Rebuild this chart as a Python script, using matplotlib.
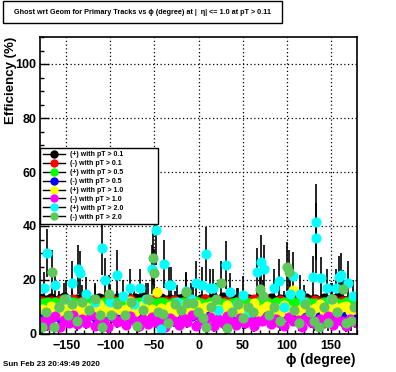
import numpy as np
import matplotlib
matplotlib.use("Agg")
import matplotlib.pyplot as plt
from matplotlib.lines import Line2D
from matplotlib.patches import Rectangle

plt.rcParams["font.family"] = ["Liberation Sans", "DejaVu Sans"]
plt.rcParams["font.weight"] = "bold"

# 5 degree bins for the well populated samples
phi = np.arange(-177.5, 180, 5.0)

eff_pos_01 = [12.9, 12.5, 13.3, 12.4, 13.0, 13.6, 12.7, 12.3, 13.1, 13.4, 12.6, 12.2,
              12.8, 13.5, 13.0, 12.4, 12.7, 13.2, 12.5, 12.1, 12.9, 13.3, 12.8, 13.7,
              12.6, 12.3, 13.0, 13.4, 12.5, 13.1, 12.4, 12.8, 13.5, 13.2, 12.7, 12.3,
              13.1, 12.9, 12.4, 13.3, 12.6, 13.6, 13.0, 12.2, 12.8, 13.4, 12.5, 13.1,
              12.3, 12.9, 13.5, 12.7, 13.2, 12.4, 13.0, 12.6, 13.7, 12.8, 12.3, 13.1,
              13.4, 12.5, 12.9, 12.2, 13.3, 12.7, 13.0, 13.5, 12.6, 12.4, 13.1, 12.8]
eff_neg_01 = [12.1, 11.6, 12.4, 11.9, 12.6, 11.4, 12.0, 12.8, 11.7, 12.3, 11.5, 12.2,
              12.7, 11.8, 12.1, 11.3, 12.5, 11.9, 12.2, 11.6, 12.9, 12.0, 11.4, 12.4,
              11.8, 12.6, 12.1, 11.5, 12.3, 11.9, 12.7, 11.7, 12.0, 12.4, 11.6, 12.2,
              11.9, 12.8, 11.5, 12.1, 12.5, 11.8, 12.3, 11.6, 12.0, 12.6, 11.4, 12.2,
              12.9, 11.7, 12.1, 12.4, 11.5, 12.0, 12.6, 11.9, 12.3, 11.6, 12.7, 11.8,
              12.2, 11.4, 12.5, 12.0, 11.7, 12.3, 12.8, 11.6, 12.1, 12.4, 11.9, 12.2]
eff_pos_05 = [11.6, 11.9, 11.3, 12.0, 11.5, 11.2, 11.8, 11.9, 11.4, 11.6, 12.1, 11.2,
              11.8, 11.4, 12.0, 11.3, 11.7, 11.9, 11.1, 11.5, 12.0, 11.3, 11.7, 11.6,
              11.2, 11.9, 11.4, 11.8, 11.6, 11.1, 12.0, 11.3, 11.9, 11.5, 11.2, 12.1,
              11.6, 11.1, 11.8, 11.3, 11.9, 11.6, 11.2, 11.5, 12.0, 11.3, 11.7, 11.4,
              11.1, 11.9, 11.6, 12.0, 11.2, 11.7, 11.3, 11.9, 11.2, 11.8, 11.5, 11.7,
              12.0, 11.3, 11.6, 11.1, 11.9, 11.4, 11.9, 11.6, 11.2, 11.8, 11.5, 11.3]
eff_neg_05 = [6.6, 7.2, 6.1, 6.9, 5.8, 7.4, 6.3, 6.7, 7.0, 5.9, 6.5, 7.3,
              6.2, 6.8, 5.7, 7.1, 6.4, 6.0, 7.5, 6.6, 6.1, 6.9, 7.2, 5.8,
              6.5, 7.0, 6.3, 5.9, 6.8, 7.3, 6.2, 6.6, 7.1, 6.0, 6.7, 7.4,
              5.8, 6.4, 6.9, 7.2, 6.1, 6.6, 5.9, 7.0, 6.5, 6.3, 7.3, 6.8,
              6.0, 6.6, 7.1, 6.2, 6.9, 5.8, 6.4, 7.2, 6.7, 6.1, 7.4, 6.5,
              5.9, 6.8, 7.0, 6.3, 7.5, 6.6, 6.2, 6.9, 7.1, 6.4, 7.6, 6.7]
eff_pos_10 = [9.2, 8.1, 10.3, 8.8, 7.6, 9.9, 8.4, 10.8, 9.0, 7.9, 10.1, 8.6,
              9.5, 11.2, 8.2, 9.7, 7.8, 10.4, 8.9, 9.3, 12.1, 8.0, 9.6, 10.6,
              8.3, 9.1, 15.5, 9.8, 8.5, 10.2, 7.7, 9.4, 10.9, 8.7, 9.0, 11.0,
              8.1, 9.9, 10.5, 7.9, 9.2, 8.6, 10.7, 9.4, 8.0, 10.0, 8.8, 9.6,
              11.4, 8.3, 9.1, 10.3, 8.5, 9.8, 7.8, 10.6, 9.0, 16.2, 8.4, 9.7,
              10.1, 8.2, 9.5, 11.0, 8.7, 9.3, 10.8, 8.0, 9.9, 10.4, 8.6, 9.2]
eff_neg_10 = [4.8, 3.2, 5.9, 6.6, 2.7, 5.1, 4.2, 6.9, 3.6, 5.5, 4.0, 7.2,
              3.1, 5.7, 4.6, 2.5, 6.2, 4.4, 5.3, 3.4, 6.8, 4.9, 2.9, 5.6,
              3.8, 6.4, 4.1, 5.0, 2.6, 6.0, 4.7, 3.3, 5.8, 4.3, 7.0, 3.0,
              5.2, 4.5, 6.3, 2.8, 5.4, 3.9, 6.7, 4.6, 3.5, 5.9, 4.0, 6.1,
              2.9, 5.0, 4.8, 6.5, 3.7, 5.6, 4.2, 3.1, 6.2, 4.9, 5.3, 2.7,
              6.0, 4.4, 3.6, 5.7, 4.1, 6.6, 3.3, 5.1, 4.7, 2.8, 5.5, 4.3]

# pT > 2.0 samples are sparse, kept as separate point lists
phi_pos_20 = [-176, -172, -163, -158, -150, -144, -137, -135, -128, -118,
              -110, -106, -100, -93, -86, -78, -73, -67, -60, -53,
              -48, -43, -39, -34, -31, -24, -14, -8, -3, 4,
              9, 13, 17, 22, 31, 36, 44, 51, 57, 67,
              71, 74, 86, 91, 97, 104, 107, 115, 120, 130,
              133, 134, 139, 146, 150, 156, 160, 162, 170, 176]
eff_pos_20 = [17, 30, 18, 10, 13, 19, 24, 22.6, 15, 12,
              32, 20, 12, 22, 14, 17, 11, 17, 13, 24,
              38.5, 2, 26, 18, 18, 12, 16, 13, 19, 18,
              29.6, 17, 17, 9, 25.6, 15.6, 11, 14.5, 8, 23,
              26.6, 24, 17, 19.6, 10, 15, 21.5, 15, 12, 21,
              35.5, 41.5, 20.6, 17, 13, 17, 21, 22, 19, 14]
err_pos_20 = [6, 9, 6, 6, 7, 8, 9, 8, 6, 6,
              10, 8, 6, 9, 6, 7, 5, 7, 6, 9,
              13, 3, 9, 7, 7, 6, 7, 6, 8, 7,
              10, 7, 7, 5, 9, 7, 6, 7, 5, 9,
              10, 9, 7, 8, 6, 7, 9, 7, 6, 8,
              13, 14, 8, 7, 6, 7, 8, 8, 8, 6]

phi_neg_20 = [-178, -173, -166, -164, -158, -153, -148, -144, -138, -132,
              -124, -118, -112, -110, -102, -99, -92, -84, -77, -70,
              -63, -57, -52, -50, -46, -40, -35, -27, -20, -14,
              -13, -6, -1, 5, 9, 14, 20, 26, 32, 38,
              45, 50, 56, 62, 70, 73, 80, 86, 92, 101,
              103, 109, 114, 121, 127, 131, 137, 142, 147, 152,
              157, 164, 168, 173, 177]
eff_neg_20 = [2.6, 8, 23, 2.6, 10, 13, 7, 11, 5, 12,
              9, 13, 7, 2.6, 15, 7, 11, 7, 12, 3,
              9, 13, 28, 22.6, 8, 7.5, 4, 11, 9, 15.6,
              11.5, 11.5, 8, 6, 2.6, 10, 13, 19, 2.3, 8,
              11, 6, 10, 8, 16.6, 14, 7, 10, 5, 25,
              23, 9, 4, 11, 8, 5, 2.6, 10, 4, 13,
              8, 16.6, 4, 5, 10]
err_neg_20 = [3, 5, 8, 3, 5, 6, 4, 5, 4, 6,
              5, 6, 4, 3, 7, 4, 5, 4, 6, 3,
              5, 6, 10, 9, 5, 4, 3, 5, 5, 7,
              6, 6, 5, 4, 3, 5, 6, 8, 3, 5,
              6, 4, 5, 4, 7, 6, 4, 5, 4, 9,
              8, 5, 3, 5, 5, 4, 3, 5, 3, 6,
              4, 7, 3, 4, 5]

dense = [
    ("(+) with pT > 0.1", eff_pos_01, 0.6, "black"),
    ("(-) with pT > 0.1", eff_neg_01, 0.6, "#ff0000"),
    ("(+) with pT > 0.5", eff_pos_05, 1.2, "#00ff00"),
    ("(-) with pT > 0.5", eff_neg_05, 1.2, "#0000ff"),
    ("(+) with pT > 1.0", eff_pos_10, 2.0, "#ffff00"),
    ("(-) with pT > 1.0", eff_neg_10, 2.0, "#ff00ff"),
]
sparse = [
    ("(+) with pT > 2.0", phi_pos_20, eff_pos_20, err_pos_20, "#00ffff"),
    ("(-) with pT > 2.0", phi_neg_20, eff_neg_20, err_neg_20, "#5ec85a"),
]

fig = plt.figure(figsize=(3.96, 3.72), dpi=100)
ax = fig.add_axes([40 / 396, 38 / 372, 317 / 396, 297 / 372])

ms = 6.3
handles = []
for label, eff, err, col in dense:
    ax.errorbar(phi, eff, yerr=err, fmt="o", ms=ms, mfc=col, mec=col,
                ecolor="black", elinewidth=1.2, capsize=0)
    handles.append(Line2D([], [], color="black", lw=1, marker="o", ms=5,
                          mfc=col, mec=col, label=label))
for label, x, eff, err, col in sparse:
    ax.errorbar(x, eff, yerr=err, fmt="o", ms=ms, mfc=col, mec=col,
                ecolor="black", elinewidth=1.2, capsize=0)
    handles.append(Line2D([], [], color="black", lw=1, marker="o", ms=5,
                          mfc=col, mec=col, label=label))

ax.set_xlim(-180, 180)
ax.set_ylim(0, 110)
ax.set_xticks([-150, -100, -50, 0, 50, 100, 150])
ax.set_xticks(np.arange(-180, 181, 10), minor=True)
ax.set_yticks([0, 20, 40, 60, 80, 100])
ax.set_yticks(np.arange(0, 111, 5), minor=True)
ax.set_xticklabels(["\u2212150", "\u2212100", "\u221250", "0", "50", "100", "150"])
ax.tick_params(which="both", direction="in", labelsize=9)
ax.tick_params(which="major", length=6.5, width=1)
ax.tick_params(which="minor", length=3.2, width=1)
ax.tick_params(axis="x", pad=4)
ax.tick_params(axis="y", pad=2.5)
for lab in ax.get_xticklabels() + ax.get_yticklabels():
    lab.set_fontweight("bold")
ax.grid(True, which="major", color="black", linestyle=(0, (1, 2)), linewidth=0.9)
for s in ax.spines.values():
    s.set_linewidth(1.2)

ax.set_ylabel("Efficiency (%)", fontsize=9.5, fontweight="bold", loc="top")
ax.yaxis.set_label_coords(-0.073, 1.0)
ax.set_xlabel("\u03d5 (degree)", fontsize=10, fontweight="bold", loc="right")
ax.xaxis.set_label_coords(0.994, -0.064)

leg = ax.legend(handles=handles, loc="upper left",
                bbox_to_anchor=(40 / 396, 0.402, 118 / 396, 0.2),
                bbox_transform=fig.transFigure, mode="expand",
                prop={"weight": "bold", "size": 5},
                frameon=True, fancybox=False, framealpha=1, edgecolor="black",
                handlelength=3.2, labelspacing=0.28, borderpad=0.45,
                handletextpad=0.6, borderaxespad=0)
leg.get_frame().set_linewidth(1)

# title box
fig.patches.append(Rectangle((3 / 396, 1 - 23 / 372), 279 / 396, 22 / 372,
                             transform=fig.transFigure, fill=False,
                             edgecolor="black", linewidth=1))
fig.text(142.5 / 396, 1 - 12 / 372,
         "Ghost wrt Geom for Primary Tracks vs \u03d5 (degree) at |  \u03b7| <= 1.0 at pT > 0.11",
         ha="center", va="center", fontsize=5.2, fontweight="bold")
fig.text(3 / 396, 1 - 364 / 372, "Sun Feb 23 20:49:49 2020",
         ha="left", va="center", fontsize=5.8, fontweight="bold")

fig.savefig("out.png", dpi=100)
